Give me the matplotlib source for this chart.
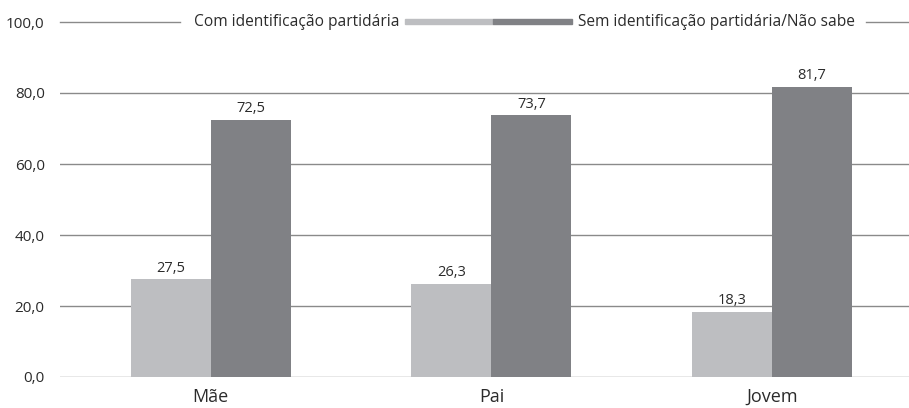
import matplotlib
matplotlib.use("Agg")
import matplotlib.pyplot as plt
import matplotlib.patches as mpatches
import numpy as np

categorias = ["Mãe", "Pai", "Jovem"]
com_id = [27.5, 26.3, 18.3]
sem_id = [72.5, 73.7, 81.7]
legenda = ["Com identificação partidária", "Sem identificação partidária/Não sabe"]
yticks = [0, 20, 40, 60, 80, 100]

C_LIGHT = "#bdbec1"
C_DARK = "#808185"
C_GRID = "#8a8a8a"
C_TEXT = "#2b2b2b"

plt.rcParams["font.family"] = ["Open Sans", "DejaVu Sans"]

W, H = 909, 408
fig = plt.figure(figsize=(W / 100, H / 100), dpi=100)
x0, x1, y0, y1 = 60, 909, 377, 22
ax = fig.add_axes([x0 / W, 1 - y0 / H, (x1 - x0) / W, (y0 - y1) / H])


def fx(px):
    # pixel column -> axes fraction
    return (px - x0) / (x1 - x0)


x = np.arange(len(categorias))
bw = 0.285
ax.bar(x - bw / 2, com_id, bw, color=C_LIGHT, zorder=3)
ax.bar(x + bw / 2, sem_id, bw, color=C_DARK, zorder=3)
for xi, a, b in zip(x, com_id, sem_id):
    ax.text(xi - bw / 2, a + 1.0, f"{a:.1f}".replace(".", ","), ha="center", va="bottom",
            fontsize=10.5, color=C_TEXT)
    ax.text(xi + bw / 2, b + 1.0, f"{b:.1f}".replace(".", ","), ha="center", va="bottom",
            fontsize=10.5, color=C_TEXT)

ax.set_xlim(-0.537, 2.488)
ax.set_ylim(0, 100)
for v in yticks[:-1]:
    ax.axhline(v, color=C_GRID, lw=1.0, zorder=1)

# top gridline is broken by the inline legend
trans = ax.get_yaxis_transform()
ax.plot([0, fx(180)], [100, 100], color=C_GRID, lw=1.0, transform=trans, clip_on=False)
ax.plot([fx(866), 1], [100, 100], color=C_GRID, lw=1.0, transform=trans, clip_on=False)
ax.text(fx(400), 100, legenda[0], ha="right", va="center", fontsize=11.2, color=C_TEXT,
        transform=trans, clip_on=False)
ax.text(fx(578), 100, legenda[1], ha="left", va="center", fontsize=11.2, color=C_TEXT,
        transform=trans, clip_on=False)
blend = matplotlib.transforms.blended_transform_factory(ax.transAxes, ax.transData)
ax.add_patch(mpatches.Rectangle((fx(405), 99.3), fx(493) - fx(405), 1.6, color=C_LIGHT,
                                transform=blend, clip_on=False))
ax.add_patch(mpatches.Rectangle((fx(493), 99.3), fx(572) - fx(493), 1.6, color=C_DARK,
                                transform=blend, clip_on=False))

ax.set_yticks(yticks)
ax.set_yticklabels([f"{v:.1f}".replace(".", ",") for v in yticks], fontsize=11, color=C_TEXT)
ax.set_xticks(x)
ax.set_xticklabels(categorias, fontsize=13, color=C_TEXT)
ax.tick_params(length=0, axis="y", pad=11)
ax.tick_params(length=0, axis="x", pad=8)
for s in ax.spines.values():
    s.set_visible(False)

fig.savefig("out.png", dpi=100)
